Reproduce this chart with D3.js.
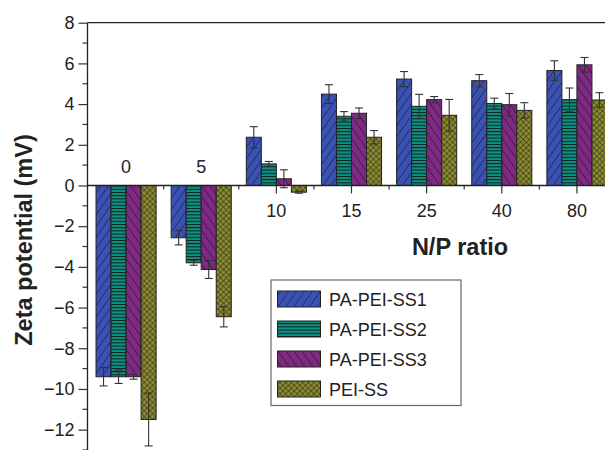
<!DOCTYPE html>
<html><head><meta charset="utf-8">
<script src="https://cdn.jsdelivr.net/npm/d3@7"></script>
<style>body{margin:0;background:#fff}svg{display:block;font-family:"Liberation Sans",Arial,sans-serif}</style>
</head><body>
<svg id="c" width="605" height="450"></svg>
<script>
const categories = ["0","5","10","15","25","40","80"];
const seriesNames = ["PA-PEI-SS1","PA-PEI-SS2","PA-PEI-SS3","PEI-SS"];
const ss1 = [-9.4,-2.57,2.37,4.49,5.23,5.15,5.65];
const ss1Err = [0.45,0.35,0.52,0.46,0.37,0.3,0.48];
const ss2 = [-9.4,-3.8,1.06,3.4,3.89,4.03,4.22];
const ss2Err = [0.33,0.12,0.12,0.23,0.59,0.26,0.57];
const ss3 = [-9.4,-4.13,0.33,3.55,4.22,3.97,5.93];
const ss3Err = [0.12,0.44,0.44,0.26,0.15,0.55,0.36];
const pei = [-11.5,-6.45,-0.33,2.37,3.45,3.69,4.2];
const peiErr = [1.3,0.5,0.05,0.33,0.78,0.38,0.36];
const yTicks = [-12,-10,-8,-6,-4,-2,0,2,4,6,8];

(function(){
const values = [ss1,ss2,ss3,pei];
const errs = [ss1Err,ss2Err,ss3Err,peiErr];
const fills = ["#3a52b4","#0f8f82","#7e2a82","#8b8b2c"];

const svg = d3.select("#c");
const mLeft = 87.5, mTop = 22.7, mRight = 613.5, mBottom = 450;
const x = d3.scaleBand().domain(categories).range([mLeft+1, mRight+1]).paddingInner(0).paddingOuter(0);
const xs = d3.scaleBand().domain(seriesNames).range([0, x.bandwidth()]).paddingInner(0).paddingOuter(0.5);
const y = d3.scaleLinear().domain([-13, 8]).range([mBottom, mTop]);

const defs = svg.append("defs");
function pat(id, color, draw, w, h){
  const p = defs.append("pattern").attr("id",id).attr("patternUnits","userSpaceOnUse").attr("width",w).attr("height",h);
  p.append("rect").attr("width",w).attr("height",h).attr("fill",color);
  draw(p);
}
pat("p0", fills[0], p=>{
  p.attr("patternTransform","rotate(35)");
  p.append("line").attr("x1",0).attr("y1",0).attr("x2",0).attr("y2",10).attr("stroke","#111").attr("stroke-width",1);
}, 6.5, 10);
pat("p1", fills[1], p=>{
  p.append("line").attr("x1",0).attr("y1",0.5).attr("x2",10).attr("y2",0.5).attr("stroke","#111").attr("stroke-width",0.9);
}, 10, 3.2);
pat("p2", fills[2], p=>{
  p.attr("patternTransform","rotate(-35)");
  p.append("line").attr("x1",0).attr("y1",0).attr("x2",0).attr("y2",10).attr("stroke","#111").attr("stroke-width",1);
}, 6.5, 10);
pat("p3", fills[3], p=>{
  p.attr("patternTransform","rotate(45)");
  p.append("line").attr("x1",0).attr("y1",0).attr("x2",0).attr("y2",5).attr("stroke","#222").attr("stroke-width",1);
  p.append("line").attr("x1",0).attr("y1",0).attr("x2",5).attr("y2",0).attr("stroke","#222").attr("stroke-width",1);
}, 4, 4);

svg.append("line").attr("x1",mLeft).attr("x2",605).attr("y1",mTop).attr("y2",mTop).attr("stroke","#222").attr("stroke-width",1.3);

const yAxis = d3.axisLeft(y).tickValues(yTicks).tickSize(9).tickPadding(4)
  .tickFormat(d => d < 0 ? "\u2212" + Math.abs(d) : d);
const gy = svg.append("g").attr("transform",`translate(${mLeft},0)`).call(yAxis);
gy.select(".domain").remove();
gy.selectAll(".tick line").attr("stroke","#333").attr("stroke-width",1.2);
gy.selectAll(".tick text").attr("font-size",18).attr("fill","#222").attr("font-family","Liberation Sans, Arial, sans-serif");
const minor = d3.range(-13,8,1).filter(v => v % 2 !== 0);
svg.append("g").selectAll("line").data(minor).join("line")
  .attr("x1",mLeft-5).attr("x2",mLeft).attr("y1",d=>y(d)).attr("y2",d=>y(d)).attr("stroke","#333").attr("stroke-width",1.2);
svg.append("line").attr("x1",mLeft).attr("x2",mLeft).attr("y1",mTop).attr("y2",mBottom).attr("stroke","#222").attr("stroke-width",1.3);

const x0 = y(0);
svg.append("g").selectAll("line").data(categories).join("line")
  .attr("x1",d=>x(d)+x.bandwidth()/2).attr("x2",d=>x(d)+x.bandwidth()/2)
  .attr("y1",x0).attr("y2",x0+8).attr("stroke","#333").attr("stroke-width",1.2);
svg.append("g").selectAll("line").data(categories.slice(1)).join("line")
  .attr("x1",d=>x(d)).attr("x2",d=>x(d))
  .attr("y1",x0).attr("y2",x0+4).attr("stroke","#333").attr("stroke-width",1.2);

values.forEach((vals, si) => {
  const g = svg.append("g");
  g.selectAll("rect").data(vals).join("rect")
    .attr("x",(d,i)=>x(categories[i])+xs(seriesNames[si]))
    .attr("width",xs.bandwidth())
    .attr("y",d=>Math.min(y(d),y(0)))
    .attr("height",d=>Math.abs(y(d)-y(0)))
    .attr("fill",`url(#p${si})`).attr("stroke","#222").attr("stroke-width",1);
});
values.forEach((vals, si) => {
  const g = svg.append("g").attr("stroke","#333").attr("stroke-width",1.1);
  vals.forEach((v,i) => {
    const cx = x(categories[i])+xs(seriesNames[si])+xs.bandwidth()/2;
    const e = errs[si][i];
    g.append("line").attr("x1",cx).attr("x2",cx).attr("y1",y(v-e)).attr("y2",y(v+e));
    [v-e, v+e].forEach(t => g.append("line").attr("x1",cx-4).attr("x2",cx+4).attr("y1",y(t)).attr("y2",y(t)));
  });
});

svg.append("line").attr("x1",mLeft).attr("x2",605).attr("y1",x0).attr("y2",x0).attr("stroke","#222").attr("stroke-width",1.3);

svg.append("g").selectAll("text").data(categories).join("text")
  .attr("x",d=>x(d)+x.bandwidth()/2)
  .attr("y",(d,i)=> i<2 ? x0-12 : x0+32)
  .attr("text-anchor","middle").attr("font-size",18).attr("fill","#222").text(d=>d);

svg.append("text").attr("x",460).attr("y",255).attr("text-anchor","middle")
  .attr("font-size",23.5).attr("font-weight","bold").attr("fill","#222").text("N/P ratio");
svg.append("text").attr("transform","translate(32,240) rotate(-90)").attr("text-anchor","middle")
  .attr("font-size",23.5).attr("font-weight","bold").attr("fill","#222").text("Zeta potential (mV)");

const lg = svg.append("g");
lg.append("rect").attr("x",271).attr("y",280).attr("width",190).attr("height",125.5)
  .attr("fill","#fff").attr("stroke","#666").attr("stroke-width",1.2);
seriesNames.forEach((n,i) => {
  const yy = 299 + i*30;
  lg.append("rect").attr("x",277.5).attr("y",yy-8).attr("width",43).attr("height",16)
    .attr("fill",`url(#p${i})`).attr("stroke","#222").attr("stroke-width",1);
  lg.append("text").attr("x",329).attr("y",yy+6.5).attr("font-size",18).attr("fill","#222").text(n);
});
})();
</script>
</body></html>
